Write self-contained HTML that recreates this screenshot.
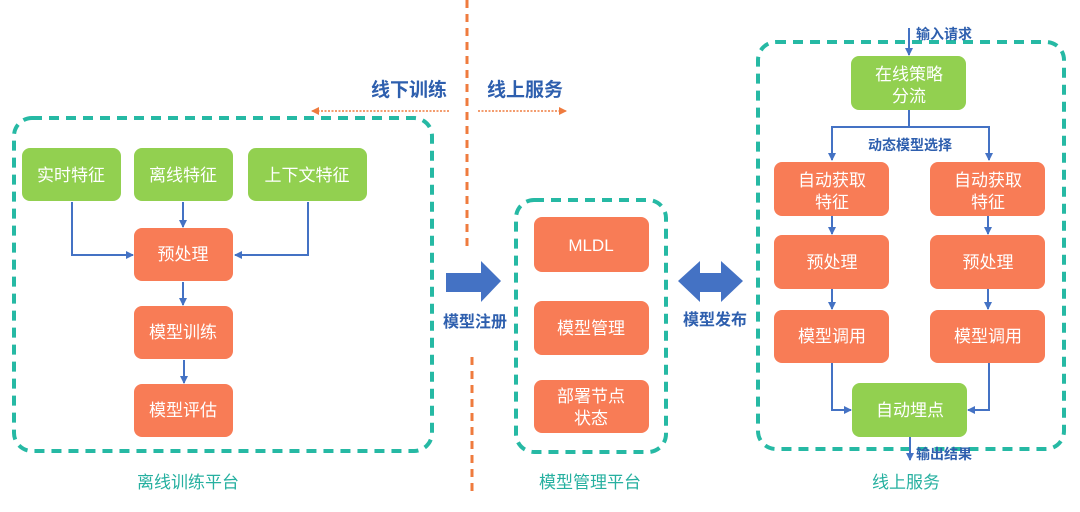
<!DOCTYPE html>
<html><head><meta charset="utf-8"><style>
html,body{margin:0;padding:0;background:#fff;}
svg{display:block;}
text{font-family:"Liberation Sans","Noto Sans CJK SC",sans-serif;}
.w{fill:#fff;font-size:17px;text-anchor:middle;}
.g{fill:#92d050;}
.o{fill:#f87c56;}
.box{fill:none;stroke:#26b9a4;stroke-width:4;stroke-dasharray:10,7;}
.ln{fill:none;stroke:#4472c4;stroke-width:2;}
.bl{fill:#2e5fae;font-weight:bold;}
.tl{fill:#26b0a0;font-size:17px;text-anchor:middle;}
</style></head><body>
<svg width="1080" height="512" viewBox="0 0 1080 512">
<defs>
<marker id="a" markerWidth="8" markerHeight="8" refX="7" refY="4" orient="auto" markerUnits="userSpaceOnUse"><path d="M0,0L8,4L0,8z" fill="#4472c4"/></marker>
<marker id="ao" markerWidth="8" markerHeight="8" refX="7" refY="4" orient="auto" markerUnits="userSpaceOnUse"><path d="M0,0L8,4L0,8z" fill="#ef7b3e"/></marker>
</defs>
<!-- orange divider -->
<line x1="467" y1="0" x2="467" y2="252" stroke="#ef7b3e" stroke-width="3" stroke-dasharray="8,6"/>
<line x1="472" y1="357" x2="472" y2="492" stroke="#ef7b3e" stroke-width="3" stroke-dasharray="8,6"/>
<text x="409" y="96" class="bl" font-size="19" text-anchor="middle">线下训练</text>
<text x="525" y="96" class="bl" font-size="19" text-anchor="middle">线上服务</text>
<line x1="449" y1="111" x2="312" y2="111" stroke="#ef7b3e" stroke-width="1.5" stroke-dasharray="2,1.5" marker-end="url(#ao)"/>
<line x1="478" y1="111" x2="566" y2="111" stroke="#ef7b3e" stroke-width="1.5" stroke-dasharray="2,1.5" marker-end="url(#ao)"/>

<!-- left box -->
<rect x="14" y="118" width="418" height="333" rx="18" class="box"/>
<rect x="22" y="148" width="99" height="53" rx="8" class="g"/><text x="71" y="181" class="w">实时特征</text>
<rect x="134" y="148" width="99" height="53" rx="8" class="g"/><text x="183" y="181" class="w">离线特征</text>
<rect x="248" y="148" width="119" height="53" rx="8" class="g"/><text x="307" y="181" class="w">上下文特征</text>
<rect x="134" y="228" width="99" height="53" rx="8" class="o"/><text x="183" y="260" class="w">预处理</text>
<rect x="134" y="306" width="99" height="53" rx="8" class="o"/><text x="183" y="338" class="w">模型训练</text>
<rect x="134" y="384" width="99" height="53" rx="8" class="o"/><text x="183" y="416" class="w">模型评估</text>
<path d="M72,202V255H133" class="ln" marker-end="url(#a)"/>
<path d="M183,202V227" class="ln" marker-end="url(#a)"/>
<path d="M308,202V255H235" class="ln" marker-end="url(#a)"/>
<path d="M183,282V305" class="ln" marker-end="url(#a)"/>
<path d="M184,360V383" class="ln" marker-end="url(#a)"/>
<text x="188" y="488" class="tl">离线训练平台</text>

<!-- register arrow -->
<path d="M446,273H481V261L501,281L481,302V292H446z" fill="#4472c4"/>
<text x="475" y="327" class="bl" font-size="16" text-anchor="middle">模型注册</text>

<!-- middle -->
<rect x="516" y="200" width="150" height="252" rx="18" class="box"/>
<rect x="534" y="217" width="115" height="55" rx="8" class="o"/><text x="591" y="251" class="w">MLDL</text>
<rect x="534" y="301" width="115" height="54" rx="8" class="o"/><text x="591" y="334" class="w">模型管理</text>
<rect x="534" y="380" width="115" height="53" rx="8" class="o"/><text x="591" y="402" class="w">部署节点</text><text x="591" y="424" class="w">状态</text>
<text x="590" y="488" class="tl">模型管理平台</text>

<!-- double arrow -->
<path d="M678,281L700,261V273H721V261L743,281L721,302V292H700V302z" fill="#4472c4"/>
<text x="715" y="325" class="bl" font-size="16" text-anchor="middle">模型发布</text>

<!-- right -->
<rect x="758" y="42" width="306" height="407" rx="18" class="box"/>
<path d="M909,28V55" class="ln" marker-end="url(#a)"/>
<text x="916" y="39" class="bl" font-size="14">输入请求</text>
<rect x="851" y="56" width="115" height="54" rx="8" class="g"/><text x="909" y="80" class="w">在线策略</text><text x="909" y="102" class="w">分流</text>
<path d="M909,110V127H832V160" class="ln" marker-end="url(#a)"/>
<path d="M909,127H989V160" class="ln" marker-end="url(#a)"/>
<text x="910" y="150" class="bl" font-size="14" text-anchor="middle">动态模型选择</text>
<rect x="774" y="162" width="115" height="54" rx="8" class="o"/><text x="832" y="186" class="w">自动获取</text><text x="832" y="208" class="w">特征</text>
<rect x="930" y="162" width="115" height="54" rx="8" class="o"/><text x="988" y="186" class="w">自动获取</text><text x="988" y="208" class="w">特征</text>
<rect x="774" y="235" width="115" height="54" rx="8" class="o"/><text x="832" y="268" class="w">预处理</text>
<rect x="930" y="235" width="115" height="54" rx="8" class="o"/><text x="988" y="268" class="w">预处理</text>
<rect x="774" y="310" width="115" height="53" rx="8" class="o"/><text x="832" y="342" class="w">模型调用</text>
<rect x="930" y="310" width="115" height="53" rx="8" class="o"/><text x="988" y="342" class="w">模型调用</text>
<path d="M832,216V234" class="ln" marker-end="url(#a)"/>
<path d="M988,216V234" class="ln" marker-end="url(#a)"/>
<path d="M832,289V309" class="ln" marker-end="url(#a)"/>
<path d="M988,289V309" class="ln" marker-end="url(#a)"/>
<rect x="852" y="383" width="115" height="54" rx="8" class="g"/><text x="910" y="416" class="w">自动埋点</text>
<path d="M832,363V410H851" class="ln" marker-end="url(#a)"/>
<path d="M989,363V410H968" class="ln" marker-end="url(#a)"/>
<path d="M910,437V460" class="ln" marker-end="url(#a)"/>
<text x="916" y="459" class="bl" font-size="14">输出结果</text>
<text x="906" y="488" class="tl">线上服务</text>
</svg>
</body></html>
